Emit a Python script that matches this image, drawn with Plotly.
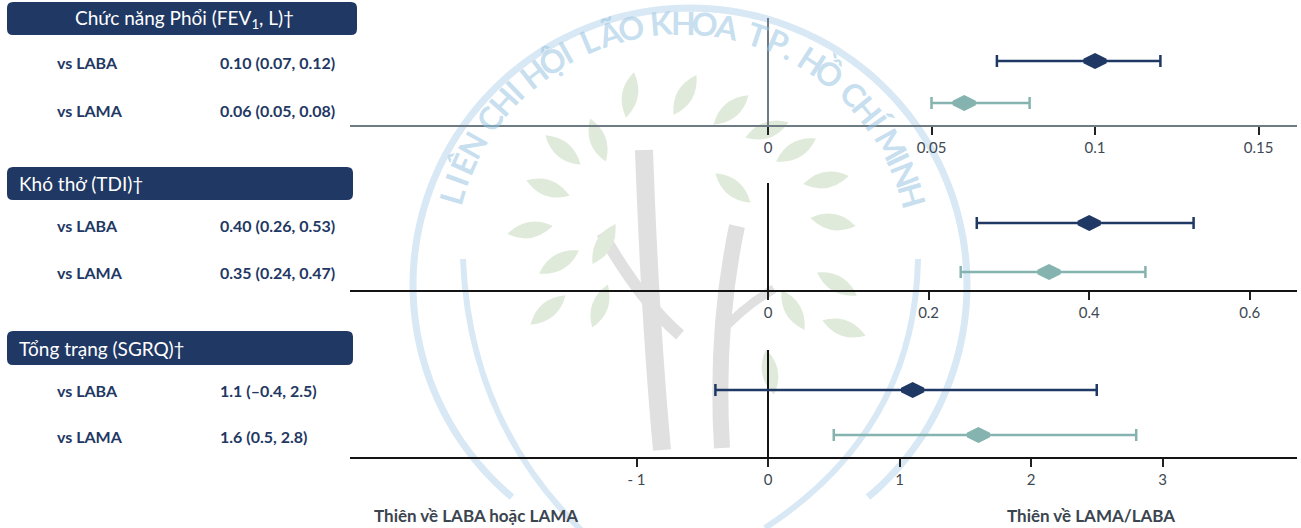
import math
import plotly.graph_objects as go

# ---- data -------------------------------------------------------------
panel_titles = ["Chức năng Phổi (FEV<sub>1</sub>, L)†", "Khó thở (TDI)†", "Tổng trạng (SGRQ)†"]
comparators = ["vs LABA", "vs LAMA"]

fev1_est = [0.10, 0.06]
fev1_lo = [0.07, 0.05]
fev1_hi = [0.12, 0.08]

tdi_est = [0.40, 0.35]
tdi_lo = [0.26, 0.24]
tdi_hi = [0.53, 0.47]

sgrq_est = [1.1, 1.6]
sgrq_lo = [-0.4, 0.5]
sgrq_hi = [2.5, 2.8]

fev1_ticks = [0, 0.05, 0.1, 0.15]
fev1_ticktext = ["0", "0.05", "0.1", "0.15"]
tdi_ticks = [0, 0.2, 0.4, 0.6]
tdi_ticktext = ["0", "0.2", "0.4", "0.6"]
sgrq_ticks = [-1, 0, 1, 2, 3]
sgrq_ticktext = ["- 1", "0", "1", "2", "3"]

favours_left = "Thiên về LABA hoặc LAMA"
favours_right = "Thiên về LAMA/LABA"
watermark_text = "LIÊN CHI HỘI LÃO KHOA TP. HỒ CHÍ MINH"

# ---- page geometry (pixels) ---------------------------------------------
W, H = 1301, 528


def fx(px):
    return px / W


def fy(py):
    return 1 - py / H


NAVY = "#1f3864"
TEAL = "#85b3af"
NARROW = "Liberation Sans Narrow, Arial Narrow, Lato, sans-serif"
BODY = "Lato, Open Sans, sans-serif"

PLOT_X0, PLOT_X1 = 350, 1297
ZERO_X = 768

panels = [
    dict(title=panel_titles[0], est=fev1_est, lo=fev1_lo, hi=fev1_hi, dec=2,
         ticks=fev1_ticks, ticktext=fev1_ticktext, ppu=3270,
         top=18, y_laba=61, y_lama=103, axis=125, row_text=[62, 110],
         box=(7, 2, 357, 35), centered=True, line="#6e7b82", lw=2),
    dict(title=panel_titles[1], est=tdi_est, lo=tdi_lo, hi=tdi_hi, dec=2,
         ticks=tdi_ticks, ticktext=tdi_ticktext, ppu=803,
         top=183, y_laba=223, y_lama=272, axis=290, row_text=[225, 272],
         box=(7, 167, 353, 200), centered=False, line="#141414", lw=1.6),
    dict(title=panel_titles[2], est=sgrq_est, lo=sgrq_lo, hi=sgrq_hi, dec=1,
         ticks=sgrq_ticks, ticktext=sgrq_ticktext, ppu=131.5,
         top=350, y_laba=390, y_lama=435, axis=457, row_text=[390, 436],
         box=(7, 331, 353, 365), centered=False, line="#141414", lw=1.6),
]

fig = go.Figure()
shapes = []
annotations = []
layout_axes = {}

# ---- background emblem ----------------------------------------------------
RING_C = (690, 285)
RING_R = 277
EMBLEM_BLUE = "#d8e8f4"
LEAF_GREEN = "#dfeada"
TRUNK_GREY = "#e0e0e0"


def pts_path(points, close=False):
    d = "M " + " L ".join(f"{fx(x):.5f},{fy(y):.5f}" for x, y in points)
    return d + (" Z" if close else "")


ring = []
for k in range(0, 141):
    th = math.radians(-140 + 2 * k)
    ring.append((RING_C[0] + RING_R * math.sin(th), RING_C[1] - RING_R * math.cos(th)))
shapes.append(dict(type="path", xref="paper", yref="paper", path=pts_path(ring),
                   line=dict(color=EMBLEM_BLUE, width=7), layer="below"))


def quad_path(p0, c, p1):
    return (f"M {fx(p0[0]):.5f},{fy(p0[1]):.5f} Q {fx(c[0]):.5f},{fy(c[1]):.5f} "
            f"{fx(p1[0]):.5f},{fy(p1[1]):.5f}")


for p0, c, p1 in [((463, 259), (470, 440), (610, 556)),
                  ((918, 259), (915, 430), (765, 528))]:
    shapes.append(dict(type="path", xref="paper", yref="paper", path=quad_path(p0, c, p1),
                       line=dict(color=EMBLEM_BLUE, width=6), layer="below"))

# tree trunk and branches
for p0, c, p1, w in [((644, 150), (650, 320), (662, 450), 18),
                     ((602, 233), (640, 300), (680, 335), 12),
                     ((737, 226), (715, 330), (722, 448), 16),
                     ((774, 289), (745, 305), (718, 335), 9)]:
    shapes.append(dict(type="path", xref="paper", yref="paper", path=quad_path(p0, c, p1),
                       line=dict(color=TRUNK_GREY, width=w), layer="below"))


def leaf(cx, cy, length, width, ang):
    a = math.radians(ang)
    ux, uy = math.cos(a), math.sin(a)
    nx, ny = -uy, ux
    t1 = (cx + ux * length / 2, cy + uy * length / 2)
    t2 = (cx - ux * length / 2, cy - uy * length / 2)
    c1 = (cx + nx * width, cy + ny * width)
    c2 = (cx - nx * width, cy - ny * width)
    return (f"M {fx(t2[0]):.5f},{fy(t2[1]):.5f} Q {fx(c1[0]):.5f},{fy(c1[1]):.5f} "
            f"{fx(t1[0]):.5f},{fy(t1[1]):.5f} Q {fx(c2[0]):.5f},{fy(c2[1]):.5f} "
            f"{fx(t2[0]):.5f},{fy(t2[1]):.5f} Z")


for cx, cy, ang in [(630, 95, -80), (685, 95, -60), (731, 110, -40), (598, 140, -110),
                    (563, 150, -140), (767, 130, -20), (796, 150, -30), (548, 188, -160),
                    (826, 180, -10), (733, 188, 40), (530, 230, 170), (833, 222, 10),
                    (559, 262, 150), (604, 244, 120), (837, 284, 30), (548, 310, 140),
                    (600, 306, 110), (793, 310, 60), (844, 328, 20), (770, 372, 80)]:
    shapes.append(dict(type="path", xref="paper", yref="paper", path=leaf(cx, cy, 46, 16, ang),
                       fillcolor=LEAF_GREEN, line=dict(width=0), layer="below"))

# emblem lettering around the ring
TEXT_C = (682, 262)
TEXT_R = 240


def char_w(ch):
    if ch == " ":
        return 9
    if ch == ".":
        return 8
    if ch in "IÍ":
        return 11
    return 22


total = sum(char_w(c) for c in watermark_text)
pos = -total / 2
for ch in watermark_text:
    w = char_w(ch)
    mid = pos + w / 2
    pos += w
    if ch == " ":
        continue
    th = mid / TEXT_R
    x = TEXT_C[0] + TEXT_R * math.sin(th)
    y = TEXT_C[1] - TEXT_R * math.cos(th)
    annotations.append(dict(xref="paper", yref="paper", x=fx(x), y=fy(y), text=f"<b>{ch}</b>",
                            showarrow=False, xanchor="center", yanchor="middle",
                            textangle=math.degrees(th),
                            font=dict(family=BODY, size=32, weight=900,
                                      color="rgba(150,195,225,0.55)")))

# ---- forest panels ------------------------------------------------------------
for i, p in enumerate(panels):
    n = "" if i == 0 else str(i + 1)
    xa, ya = "x" + n, "y" + n

    # y: LABA row at 1, LAMA row at 0
    upp = 1 / (p["y_lama"] - p["y_laba"])
    y_range = [-(p["axis"] - p["y_lama"]) * upp, 1 + (p["y_laba"] - p["top"]) * upp]
    x_range = [(PLOT_X0 - ZERO_X) / p["ppu"], (PLOT_X1 - ZERO_X) / p["ppu"]]

    layout_axes["xaxis" + n] = dict(
        domain=[fx(PLOT_X0), fx(PLOT_X1)], anchor=ya, range=x_range,
        showgrid=False, zeroline=True, zerolinecolor=p["line"], zerolinewidth=p["lw"],
        showline=True, linecolor=p["line"], linewidth=p["lw"],
        ticks="outside", ticklen=8, tickwidth=2, tickcolor="#222222",
        tickvals=p["ticks"], ticktext=p["ticktext"],
        tickfont=dict(family=NARROW, size=15, color="#3d4852"), fixedrange=True)
    layout_axes["yaxis" + n] = dict(
        domain=[fy(p["axis"]), fy(p["top"])], anchor=xa, range=y_range,
        visible=False, showgrid=False, zeroline=False, fixedrange=True)

    for j, color in enumerate([NAVY, TEAL]):
        est, lo, hi = p["est"][j], p["lo"][j], p["hi"][j]
        fig.add_trace(go.Scatter(
            x=[est], y=[1 - j], xaxis=xa, yaxis=ya, mode="markers",
            marker=dict(symbol="diamond-wide", size=15, color=color,
                        line=dict(color=color, width=5)),
            error_x=dict(type="data", symmetric=False, array=[hi - est],
                         arrayminus=[est - lo], color=color, thickness=2.5, width=6),
            showlegend=False, hoverinfo="skip"))

    # header box
    bx0, by0, bx1, by1 = p["box"]
    r = 6
    box_path = (
        f"M {fx(bx0 + r)},{fy(by0)} L {fx(bx1 - r)},{fy(by0)} "
        f"Q {fx(bx1)},{fy(by0)} {fx(bx1)},{fy(by0 + r)} L {fx(bx1)},{fy(by1 - r)} "
        f"Q {fx(bx1)},{fy(by1)} {fx(bx1 - r)},{fy(by1)} L {fx(bx0 + r)},{fy(by1)} "
        f"Q {fx(bx0)},{fy(by1)} {fx(bx0)},{fy(by1 - r)} L {fx(bx0)},{fy(by0 + r)} "
        f"Q {fx(bx0)},{fy(by0)} {fx(bx0 + r)},{fy(by0)} Z")
    shapes.append(dict(type="path", xref="paper", yref="paper", path=box_path,
                       fillcolor=NAVY, line=dict(width=0), layer="above"))
    if p["centered"]:
        tx, anchor = fx(184), "center"
    else:
        tx, anchor = fx(bx0 + 10), "left"
    annotations.append(dict(xref="paper", yref="paper", x=tx, y=fy((by0 + by1) / 2),
                            text=p["title"], showarrow=False, xanchor=anchor, yanchor="middle",
                            font=dict(family=BODY, size=19, color="white")))

    # row labels and estimate text
    for j in range(2):
        d = p["dec"]
        val = (f"{p['est'][j]:.{d}f} ({p['lo'][j]:.{d}f}, {p['hi'][j]:.{d}f})").replace("-", "–")
        ry = fy(p["row_text"][j])
        annotations.append(dict(xref="paper", yref="paper", x=fx(55), y=ry,
                                text=f"<b>{comparators[j]}</b>", showarrow=False,
                                xanchor="left", yanchor="middle",
                                font=dict(family=BODY, size=16, color=NAVY)))
        annotations.append(dict(xref="paper", yref="paper", x=fx(218), y=ry,
                                text=f"<b>{val}</b>", showarrow=False,
                                xanchor="left", yanchor="middle",
                                font=dict(family=BODY, size=16, color=NAVY)))

# direction labels under the bottom axis
for txt, x in [(favours_left, 372), (favours_right, 1005)]:
    annotations.append(dict(xref="paper", yref="paper", x=fx(x), y=fy(515),
                            text=f"<b>{txt}</b>", showarrow=False, xanchor="left",
                            yanchor="middle",
                            font=dict(family=NARROW, size=17, color="#3b4550")))

fig.update_layout(
    width=W, height=H, margin=dict(l=0, r=0, t=0, b=0),
    paper_bgcolor="white", plot_bgcolor="rgba(0,0,0,0)",
    showlegend=False, shapes=shapes, annotations=annotations, **layout_axes)

fig.write_html("out.html")
